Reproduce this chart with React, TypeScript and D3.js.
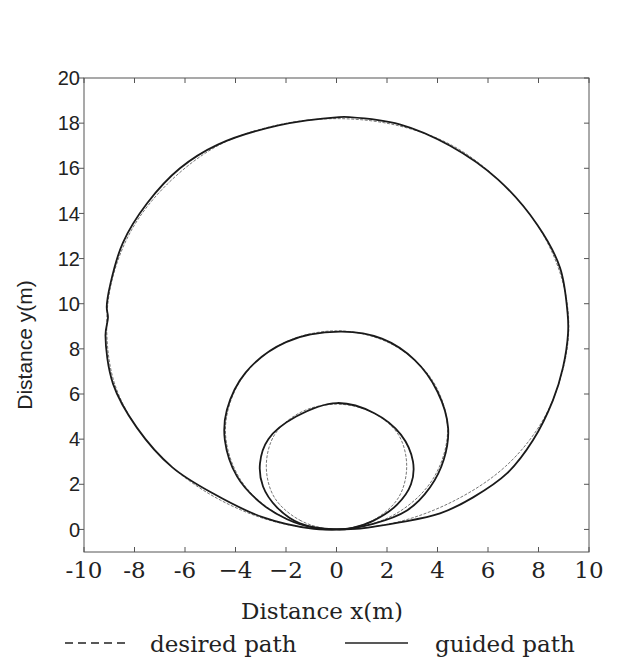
import React from "react";
import * as d3 from "d3";

// tick values and labels
const xTicks = [-10, -8, -6, -4, -2, 0, 2, 4, 6, 8, 10];
const xTickLabels = ["-10", "-8", "-6", "\u22124", "\u22122", "0", "2", "4", "6", "8", "10"];
const yTicks = [0, 2, 4, 6, 8, 10, 12, 14, 16, 18, 20];

// desired paths (x, y in metres)
const desiredLarge: [number, number][] = [
  [0, 0], [-2.4, 0.33], [-4.6, 1.3], [-6.5, 2.75], [-7.9, 4.5], [-8.8, 6.5], [-9.1, 8.8],
  [-8.9, 11], [-8.1, 13.3], [-6.7, 15.3], [-4.7, 17], [-2.4, 17.9], [0, 18.2], [2.4, 17.9],
  [4.6, 17], [6.5, 15.4], [8, 13.4], [8.9, 11.2], [9.2, 9], [8.9, 6.8], [8.1, 4.7],
  [6.7, 2.8], [4.8, 1.35], [2.5, 0.35],
];
const desiredMedium: [number, number][] = [
  [0, 0], [-2.2, 0.6], [-3.8, 2.2], [-4.4, 4.4], [-3.8, 6.6], [-2.2, 8.2], [0, 8.8],
  [2.2, 8.2], [3.8, 6.6], [4.4, 4.4], [3.8, 2.2], [2.2, 0.6],
];
const desiredSmall: [number, number][] = [
  [0, 0], [-1.4, 0.38], [-2.45, 1.4], [-2.78, 2.8], [-2.45, 4.2], [-1.4, 5.2], [0, 5.55],
  [1.4, 5.2], [2.45, 4.2], [2.78, 2.8], [2.45, 1.4], [1.4, 0.38],
];

// guided paths (measured vehicle positions)
const guidedLarge: [number, number][] = [
  [0, 0], [-0.9, 0.02], [-2.9, 0.53], [-4.9, 1.6], [-6.5, 2.75], [-7.9, 4.5], [-8.85, 6.45],
  [-9.15, 8.6], [-9.05, 9.4], [-9.1, 9.85], [-8.95, 10.9], [-8.46, 12.7], [-7.5, 14.45],
  [-6.2, 16.0], [-4.7, 17.05], [-2.3, 17.9], [0.1, 18.27], [0.5, 18.27], [2.5, 17.95],
  [4.5, 17.0], [6.4, 15.5], [7.95, 13.5], [8.85, 11.6], [9.15, 9.6], [9.17, 8.69],
  [8.97, 7.18], [8.57, 5.72], [7.78, 3.95], [6.75, 2.48], [5.41, 1.42], [4.1, 0.71],
  [2.5, 0.31], [0.93, 0.04],
];
const guidedMedium: [number, number][] = [
  [0, 0], [-0.93, 0.08], [-1.96, 0.45], [-3.03, 1.2], [-3.94, 2.35], [-4.42, 3.95],
  [-4.34, 5.3], [-3.6, 6.95], [-2.0, 8.3], [0.14, 8.76], [1.8, 8.45], [3.1, 7.5],
  [4.0, 6.1], [4.42, 4.5], [4.25, 3.1], [3.7, 1.86], [2.79, 0.84], [1.45, 0.25],
];
const guidedSmall: [number, number][] = [
  [0, 0], [-1.45, 0.27], [-2.36, 0.98], [-2.91, 1.9], [-3.03, 2.93], [-2.7, 4.0],
  [-1.6, 5.0], [0.02, 5.6], [1.5, 5.15], [2.55, 4.2], [3.03, 3.0], [2.95, 2.0],
  [2.4, 1.1], [1.45, 0.38], [0.53, 0.04],
];

const width = 618;
const height = 661;
const left = 84;
const right = 589;
const top = 78;
const bottom = 552;

export default function App() {
  const x = d3.scaleLinear().domain([-10, 10]).range([left, right]);
  const y = d3.scaleLinear().domain([-1, 20]).range([bottom, top]);

  const line = d3.line<[number, number]>()
    .x(d => x(d[0]))
    .y(d => y(d[1]))
    .curve(d3.curveCatmullRomClosed.alpha(0.5));

  const serif = "'DejaVu Serif', serif";
  const sans = "'Liberation Sans', Arial, sans-serif";
  const axisColor = "#555";

  return (
    <svg width={width} height={height} style={{ position: "absolute", left: 0, top: 0, background: "#fff" }}>
      {/* desired paths (dashed, thin) */}
      <g fill="none" stroke="#666" strokeWidth={0.9} strokeDasharray="3,1.5">
        {[desiredLarge, desiredMedium, desiredSmall].map((p, i) => (
          <path key={i} d={line(p) || ""} />
        ))}
      </g>

      {/* guided paths */}
      <g fill="none" stroke="#1a1a1a" strokeWidth={1.8} strokeLinejoin="round">
        {[guidedLarge, guidedMedium, guidedSmall].map((p, i) => (
          <path key={i} d={line(p) || ""} />
        ))}
      </g>

      {/* frame */}
      <rect x={left} y={top} width={right - left} height={bottom - top}
        fill="none" stroke={axisColor} strokeWidth={1} />

      {/* ticks: inward on bottom, top and right, outward on left */}
      <g stroke={axisColor} strokeWidth={1}>
        {xTicks.map(t => (
          <g key={t}>
            <line x1={x(t)} x2={x(t)} y1={bottom} y2={bottom - 5} />
            <line x1={x(t)} x2={x(t)} y1={top} y2={top + 5} />
          </g>
        ))}
        {yTicks.map(t => (
          <g key={t}>
            <line x1={left} x2={left - 5} y1={y(t)} y2={y(t)} />
            <line x1={right} x2={right - 5} y1={y(t)} y2={y(t)} />
          </g>
        ))}
      </g>

      {/* x tick labels */}
      <g fontFamily={serif} fontSize={23} fill="#222" textAnchor="middle">
        {xTicks.map((t, i) => (
          <text key={t} x={x(t)} y={578}>{xTickLabels[i]}</text>
        ))}
      </g>

      {/* y tick labels */}
      <g fontFamily={sans} fontSize={20} fill="#222" textAnchor="end">
        {yTicks.map(t => (
          <text key={t} x={80} y={y(t)} dy="0.36em">{t}</text>
        ))}
      </g>

      {/* axis titles */}
      <text x={322} y={619} fontFamily={serif} fontSize={23} fill="#222" textAnchor="middle">
        Distance x(m)
      </text>
      <text transform="translate(32, 345) rotate(-90)"
        fontFamily={sans} fontSize={21} fill="#222" textAnchor="middle">
        Distance y(m)
      </text>

      {/* legend */}
      <line x1={65} x2={128} y1={643} y2={643} stroke="#222" strokeWidth={1.6} strokeDasharray="8,5" />
      <text x={150} y={652} fontFamily={serif} fontSize={23} fill="#222">desired path</text>
      <line x1={345} x2={408} y1={643} y2={643} stroke="#222" strokeWidth={1.6} />
      <text x={435} y={652} fontFamily={serif} fontSize={23} fill="#222">guided path</text>
    </svg>
  );
}
